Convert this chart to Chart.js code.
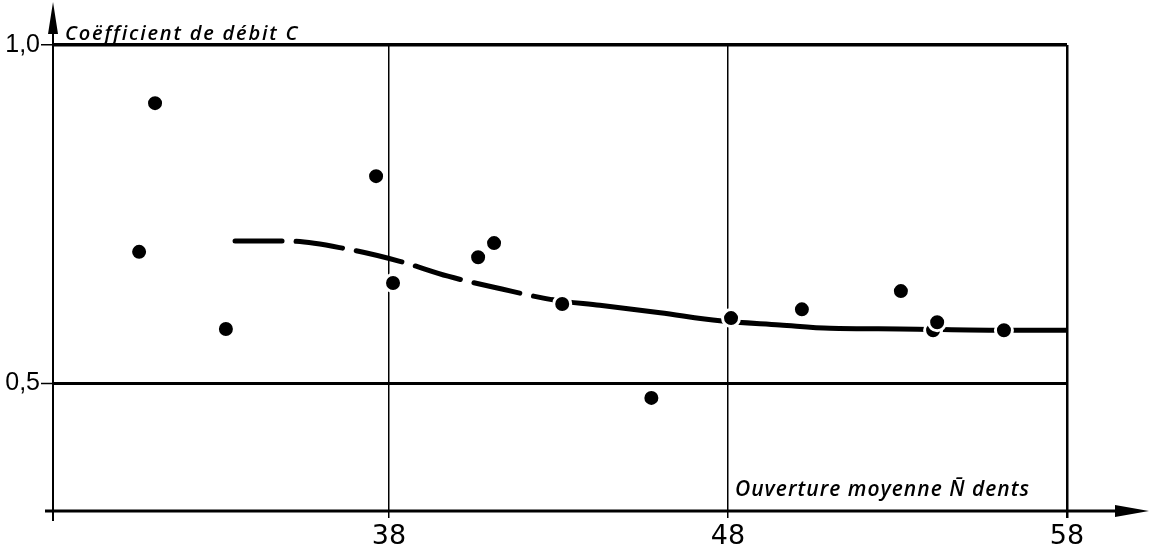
<!DOCTYPE html>
<html>
<head>
<meta charset="utf-8">
<script src="https://cdn.jsdelivr.net/npm/chart.js@4.4.1/dist/chart.umd.min.js"></script>
<style>
  html, body { margin: 0; padding: 0; background: #fff; }
  #wrap { width: 1153px; height: 549px; }
</style>
</head>
<body>
<div id="wrap"><canvas id="c" width="1153" height="549"></canvas></div>
<script>
// ---- data ----
const obsX = [30.63, 31.10, 33.19, 37.62, 38.12, 40.63, 41.10, 43.11, 45.74, 48.09, 50.18, 53.10, 54.05, 54.17, 56.14];
const obsY = [0.694, 0.914, 0.580, 0.806, 0.648, 0.686, 0.707, 0.617, 0.478, 0.596, 0.609, 0.636, 0.578, 0.590, 0.578];
const curveX = [33.46, 35.02, 36.79, 38.32, 39.74, 41.33, 42.84, 44.22, 46.0, 47.76, 49.53, 51.01, 53.07, 56.02, 58.0];
const curveY = [0.710, 0.710, 0.698, 0.680, 0.658, 0.639, 0.623, 0.615, 0.604, 0.592, 0.586, 0.581, 0.580, 0.578, 0.578];
const xTicks = [38, 48, 58];
const yTicks = [0.5, 1.0];
const yTickLabels = ['0,5', '1,0'];
const yTitle = 'Coëfficient de débit C';
const xTitle = 'Ouverture moyenne N\u0304 dents';
const xMin = 28.09, xMax = 58, yMin = 0.3107, yMax = 1.0;

const obsPts = obsX.map((x, i) => ({ x: x, y: obsY[i] }));
const curvePts = curveX.map((x, i) => ({ x: x, y: curveY[i] }));

function spacedText(ctx, text, x, y, targetW) {
  ctx.save();
  const w0 = ctx.measureText(text).width;
  const n = [...text].length;
  if ('letterSpacing' in ctx) {
    ctx.letterSpacing = ((targetW - w0) / (n - 1)).toFixed(2) + 'px';
  }
  ctx.fillText(text, x, y);
  ctx.restore();
}

const decor = {
  id: 'decor',
  beforeDraw(chart) {
    const ctx = chart.ctx;
    ctx.save();
    ctx.fillStyle = '#fff';
    ctx.fillRect(0, 0, chart.width, chart.height);
    ctx.restore();
  },
  afterDraw(chart) {
    const ctx = chart.ctx;
    const xs = chart.scales.x, ys = chart.scales.y;
    const ax = xs.getPixelForValue(xMin);
    const ay = ys.getPixelForValue(yMin);
    ctx.save();
    ctx.strokeStyle = '#000';
    ctx.fillStyle = '#000';
    // y axis
    ctx.lineWidth = 2;
    ctx.beginPath();
    ctx.moveTo(ax, ay + 10);
    ctx.lineTo(ax, 20);
    ctx.stroke();
    ctx.beginPath();
    ctx.moveTo(ax, 2);
    ctx.lineTo(ax - 5, 34);
    ctx.lineTo(ax + 5, 34);
    ctx.closePath();
    ctx.fill();
    // x axis
    ctx.lineWidth = 3;
    ctx.beginPath();
    ctx.moveTo(ax - 8, ay);
    ctx.lineTo(1125, ay);
    ctx.stroke();
    ctx.beginPath();
    ctx.moveTo(1149, ay);
    ctx.lineTo(1115, ay - 6);
    ctx.lineTo(1115, ay + 6);
    ctx.closePath();
    ctx.fill();
    // titles
    ctx.textBaseline = 'alphabetic';
    ctx.textAlign = 'left';
    ctx.font = 'italic 600 20px "Open Sans"';
    spacedText(ctx, yTitle, ax + 12, 40, 232);
    ctx.font = 'italic 600 21px "Open Sans"';
    spacedText(ctx, xTitle, xs.getPixelForValue(48) + 7, ay - 15, 295);
    ctx.restore();
  }
};

new Chart(document.getElementById('c'), {
  data: {
    datasets: [
      {
        type: 'line',
        data: curvePts,
        borderColor: '#000',
        borderWidth: 5,
        borderCapStyle: 'round',
        cubicInterpolationMode: 'monotone',
        pointRadius: 0,
        fill: false,
        segment: {
          borderDash: c => (c.p0.parsed.x < 42.8 ? [47, 14] : [])
        },
        order: 2
      },
      {
        type: 'scatter',
        data: obsPts,
        backgroundColor: '#000',
        borderColor: '#fff',
        borderWidth: 3,
        pointRadius: 8.5,
        order: 1
      }
    ]
  },
  options: {
    responsive: false,
    animation: false,
    layout: { padding: { top: 45, right: 86, left: 0, bottom: 0 } },
    plugins: { legend: { display: false }, tooltip: { enabled: false } },
    scales: {
      x: {
        type: 'linear',
        min: xMin, max: xMax,
        afterBuildTicks: s => { s.ticks = xTicks.map(v => ({ value: v })); },
        afterFit: s => { s.height = 38; },
        border: { display: false },
        grid: {
          color: '#000',
          lineWidth: c => (c.tick && c.tick.value === 58 ? 2.5 : 1.5),
          tickLength: 7,
          drawTicks: true
        },
        ticks: {
          color: '#000',
          padding: 3,
          font: { family: 'DejaVu Sans', size: 27 },
          maxRotation: 0,
          callback: v => String(v)
        }
      },
      y: {
        type: 'linear',
        min: yMin, max: yMax,
        afterBuildTicks: s => { s.ticks = yTicks.map(v => ({ value: v })); },
        afterFit: s => { s.width = 53; },
        border: { display: false },
        grid: {
          color: '#000',
          lineWidth: c => (c.tick && c.tick.value === 1.0 ? 3.5 : 3),
          tickLength: 12,
          tickWidth: 1.5
        },
        ticks: {
          color: '#000',
          padding: 1,
          font: { family: 'Liberation Sans', size: 25 },
          callback: v => yTickLabels[yTicks.indexOf(v)]
        }
      }
    }
  },
  plugins: [decor]
});
</script>
</body>
</html>
